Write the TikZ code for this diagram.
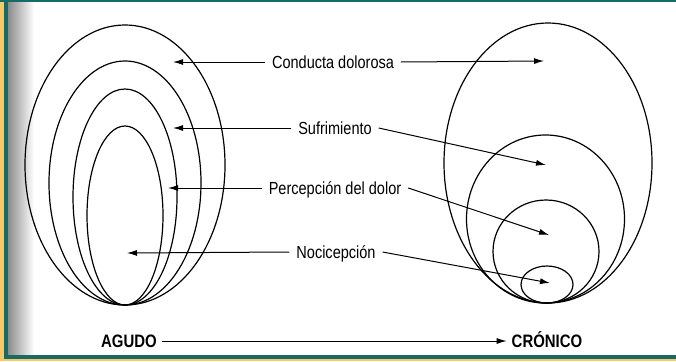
\documentclass[tikz,border=0pt]{standalone}
\usepackage{fontspec}
\setmainfont{Liberation Sans}[FakeStretch=0.83]
\usetikzlibrary{arrows.meta}
\definecolor{frameteal}{RGB}{22,108,100}
\definecolor{frameyellow}{RGB}{250,200,100}

\begin{document}
\begin{tikzpicture}[x=1pt,y=-1pt,>={Latex[length=10pt,width=6pt]},
    lbl/.style={inner sep=0pt,outer sep=7pt,text height=13pt,text depth=1pt,font=\fontsize{17.5}{20}\selectfont},
    axis/.style={inner sep=0pt,outer sep=5pt,text height=13pt,text depth=1pt,font=\fontsize{18}{20}\selectfont\bfseries},
    ring/.style={line width=1.2pt},
    pointer/.style={->,line width=1pt}]
    \useasboundingbox (0,0) rectangle (676,361);
    \fill[white] (0,0) rectangle (676,361);
    \shade[left color=black!45,right color=white] (8,2) rectangle (34,355);
    \fill[frameyellow] (0,0) rectangle (3.5,361);
    \fill[frameyellow] (0,359) rectangle (676,361);
    \fill[frameteal] (0,0) rectangle (676,2);
    \fill[frameteal] (3.5,0) rectangle (8,359);
    \fill[frameteal] (3.5,355) rectangle (676,359);

    \draw[ring] (125,165) ellipse (100 and 140);
    \draw[ring] (125,183) ellipse (76 and 122);
    \draw[ring] (125,197) ellipse (52 and 108);
    \draw[ring] (125,215.5) ellipse (38 and 89.5);

    \draw[ring] (548,163) ellipse (104 and 140);
    \draw[ring] (545.5,219) ellipse (79 and 84);
    \draw[ring] (546,251.5) ellipse (53 and 51.5);
    \draw[ring] (547,284.5) ellipse (26 and 18.5);

    \node[lbl] (conducta) at (333,62) {Conducta dolorosa};
    \node[lbl] (sufr) at (335,128) {Sufrimiento};
    \node[lbl] (percep) at (335,188) {Percepción del dolor};
    \node[lbl] (noci) at (336,252) {Nocicepción};
    \node[axis] (agudo) at (129,341) {AGUDO};
    \node[axis] (cronico) at (547,341) {CRÓNICO};

    \coordinate (conductaA) at (173,62);
    \coordinate (conductaC) at (544,61);
    \coordinate (sufrA) at (173,128);
    \coordinate (sufrC) at (546,165);
    \coordinate (percepA) at (168,188);
    \coordinate (percepC) at (549,235);
    \coordinate (nociA) at (127,253);
    \coordinate (nociC) at (550,283);

    \draw[pointer] (conducta.west) -- (conductaA);
    \draw[pointer] (conducta.east) -- (conductaC);
    \draw[pointer] (sufr.west) -- (sufrA);
    \draw[pointer] (sufr.east) -- (sufrC);
    \draw[pointer] (percep.west) -- (percepA);
    \draw[pointer] (percep.east) -- (percepC);
    \draw[pointer] (noci.west) -- (nociA);
    \draw[pointer] (noci.east) -- (nociC);
    \draw[pointer] (agudo) -- (cronico);
\end{tikzpicture}
\end{document}
